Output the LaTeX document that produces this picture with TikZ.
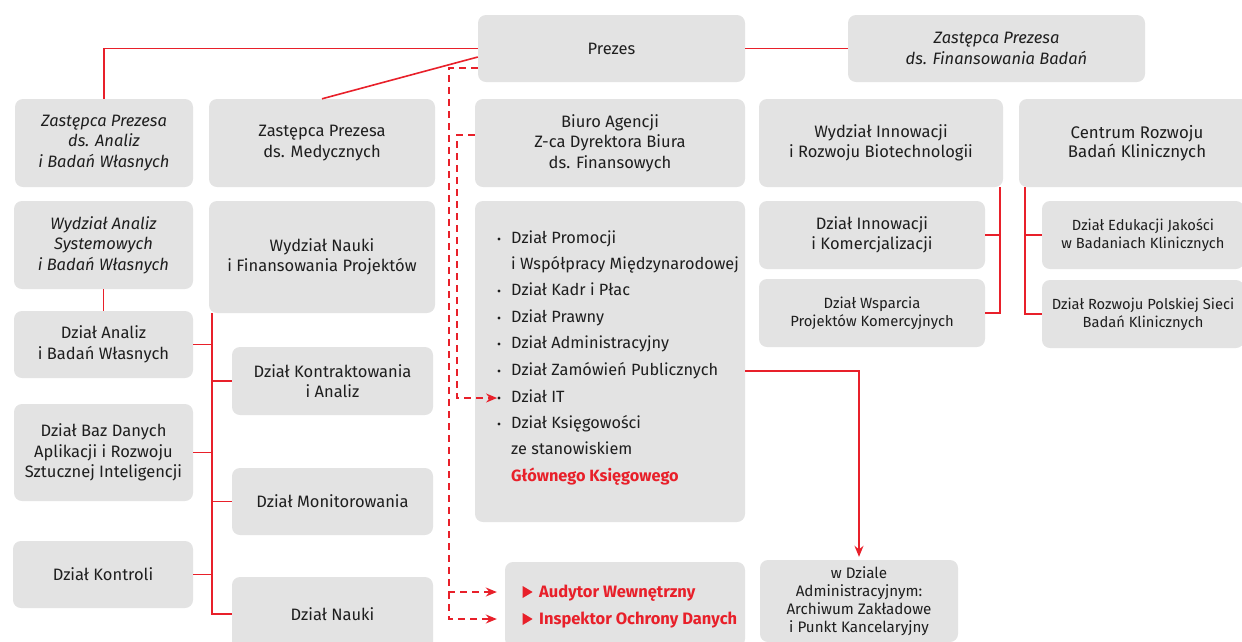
\documentclass[tikz,border=0pt]{standalone}
\usepackage{fontspec}
\setmainfont{Fira Sans}
\usetikzlibrary{arrows.meta,calc,shapes.geometric}
\definecolor{boxgray}{RGB}{227,227,227}
\definecolor{rd}{RGB}{232,32,42}
\definecolor{txt}{RGB}{30,30,30}
\begin{document}
\begin{tikzpicture}[x=1pt,y=-1pt,
 box/.style={fill=boxgray, rounded corners=8pt, inner sep=0pt, align=center, text=txt, font=\fontsize{16.5}{20.5}\selectfont},
 sm/.style={font=\fontsize{14.7}{18}\selectfont},
 itl/.style={font=\fontsize{16.5}{20.5}\selectfont\itshape},
 conn/.style={draw=rd, line width=1.6pt},
 dconn/.style={conn, dash pattern=on 7pt off 5pt},
 tip/.style={-{Stealth[length=11pt,width=9pt]}},
 item/.style={anchor=base west, inner sep=0pt, text=txt, font=\fontsize{16.3}{18}\selectfont},
 bul/.style={circle, fill=txt, inner sep=0pt, minimum size=3.4pt},
 tri/.style={isosceles triangle, fill=rd, inner sep=0pt, minimum height=10pt, minimum width=12pt, isosceles triangle stretches},
]
\useasboundingbox (0,0) rectangle (1242,641);
\clip (0,0) rectangle (1242,641);

% top row
\node[box, minimum width=267pt, minimum height=67pt] (prezes) at (611.5,48.5) {Prezes};
\node[box, itl, minimum width=297pt, minimum height=67pt] (zfin) at (996.5,48.5) {Zastępca Prezesa\\ds. Finansowania Badań};

% second row
\node[box, itl, minimum width=178pt, minimum height=88pt] (zanal) at (104,143) {Zastępca Prezesa\\ds. Analiz\\i Badań Własnych};
\node[box, minimum width=226pt, minimum height=88pt] (zmed) at (322,143) {Zastępca Prezesa\\ds. Medycznych};
\node[box, minimum width=270pt, minimum height=88pt] (biuro) at (610,143) {Biuro Agencji\\Z-ca Dyrektora Biura\\ds. Finansowych};
\node[box, minimum width=244pt, minimum height=88pt] (wir) at (881,143) {Wydział Innowacji\\i Rozwoju Biotechnologii};
\node[box, font=\fontsize{16.8}{18.5}\selectfont, minimum width=236pt, minimum height=88pt] (crbk) at (1137,143) {Centrum Rozwoju\\Badań Klinicznych};

% right sub boxes
\node[box, minimum width=226pt, minimum height=68pt] (dik) at (872,235) {Dział Innowacji\\i Komercjalizacji};
\node[box, sm, font=\fontsize{14.8}{18}\selectfont, minimum width=226pt, minimum height=68pt] (dwpk) at (872,313) {Dział Wsparcia\\Projektów Komercyjnych};
\node[box, sm, minimum width=202pt, minimum height=68pt] (dejk) at (1143,235) {Dział Edukacji Jakości\\w Badaniach Klinicznych};
\node[box, sm, minimum width=202pt, minimum height=68pt] (drps) at (1143,314) {Dział Rozwoju Polskiej Sieci\\Badań Klinicznych};

% left column
\node[box, itl, minimum width=179pt, minimum height=88pt] (wasb) at (103.5,245) {Wydział Analiz\\Systemowych\\i Badań Własnych};
\node[box, minimum width=179pt, minimum height=67pt] (dabw) at (103.5,344.5) {Dział Analiz\\i Badań Własnych};
\node[box, minimum width=179pt, minimum height=97pt] (dbd) at (103.5,452.5) {Dział Baz Danych\\Aplikacji i Rozwoju\\Sztucznej Inteligencji};
\node[box, minimum width=180pt, minimum height=67pt] (dk) at (103,574.5) {Dział Kontroli};

\node[box, minimum width=226pt, minimum height=112pt] (wnfp) at (322,257) {Wydział Nauki\\i Finansowania Projektów};
\node[box, minimum width=201pt, minimum height=68pt] (dka) at (332.5,381) {Dział Kontraktowania\\i Analiz};
\node[box, minimum width=201pt, minimum height=67pt] (dm) at (332.5,501.5) {Dział Monitorowania};
\node[box, minimum width=201pt, minimum height=74pt] (dn) at (332.5,614) {Dział Nauki};

% middle list box
\node[box, minimum width=270pt, minimum height=321pt] (list) at (610,361.5) {};
\node[bul] (b1) at (499,239) {};
\node[item] (i1) at (511,243) {Dział Promocji};
\node[item] (i2) at (511,269) {i Współpracy Międzynarodowej};
\node[bul] (b3) at (499,291) {};
\node[item] (i3) at (511,295) {Dział Kadr i Płac};
\node[bul] (b4) at (499,318) {};
\node[item] (i4) at (511,322) {Dział Prawny};
\node[bul] (b5) at (499,344) {};
\node[item] (i5) at (511,348) {Dział Administracyjny};
\node[bul] (b6) at (499,371) {};
\node[item] (i6) at (511,375) {Dział Zamówień Publicznych};
\node[bul] (b7) at (499,398) {};
\node[item] (i7) at (511,402) {Dział IT};
\node[bul] (b8) at (499,424) {};
\node[item] (i8) at (511,428) {Dział Księgowości};
\node[item] (i9) at (511,454) {ze stanowiskiem};
\node[item, text=rd, font=\fontsize{16.3}{18}\selectfont\bfseries] (i10) at (511,481) {Głównego Księgowego};

% bottom middle boxes
\node[box, minimum width=240pt, minimum height=85pt] (audit) at (625,604.5) {};
\node[tri] (t1) at (526,592) {};
\node[item, text=rd, font=\fontsize{16.5}{18}\selectfont\bfseries] (a1) at (539,597.5) {Audytor Wewnętrzny};
\node[tri] (t2) at (526,619) {};
\node[item, text=rd, font=\fontsize{16.5}{18}\selectfont\bfseries] (a2) at (539,624.5) {Inspektor Ochrony Danych};

\node[box, font=\fontsize{15.2}{18}\selectfont, minimum width=198pt, minimum height=82pt] (arch) at (859,601) {w Dziale\\Administracyjnym:\\Archiwum Zakładowe\\i Punkt Kancelaryjny};

% solid connectors
\draw[conn] (prezes.west) -| (zanal.north);
\draw[conn] ([yshift=-8.5pt]prezes.west) -- (zmed.north);
\draw[conn] (prezes.east) -- (zfin.west);
\draw[conn] (wasb.south) -- (dabw.north);

\coordinate (spL) at ([xshift=3pt]wnfp.south west);
\draw[conn] (spL) |- (dn.west);
\draw[conn] (dabw.east) -- (dabw.east -| spL);
\draw[conn] (dbd.east) -- (dbd.east -| spL);
\draw[conn] (dk.east) -- (dk.east -| spL);
\draw[conn] (dka.west) -- (dka.west -| spL);
\draw[conn] (dm.west) -- (dm.west -| spL);

\coordinate (spW) at ([xshift=-3pt]wir.south east);
\draw[conn] (spW) |- (dwpk.east);
\draw[conn] (dik.east) -- (dik.east -| spW);

\coordinate (spC) at ([xshift=6pt]crbk.south west);
\draw[conn] (spC) |- (drps.west);
\draw[conn] (dejk.west) -- (dejk.west -| spC);

\draw[conn, tip, shorten >=3pt] (list.east |- b6) -| (arch.north);

% dashed connectors
\coordinate (busA) at (449,0);
\coordinate (busB) at (457,0);
\draw[dconn, tip, shorten >=8pt] ([yshift=-19.5pt]prezes.west) -| (busA |- t1) -- (audit.west |- t1);
\draw[dconn, tip, shorten >=8pt] (busA |- t1) -- (busA |- t2) -- (audit.west |- t2);
\draw[dconn, tip] ([yshift=8pt]biuro.west) -| (busB |- b7) -- (b7.west);
\end{tikzpicture}
\end{document}
